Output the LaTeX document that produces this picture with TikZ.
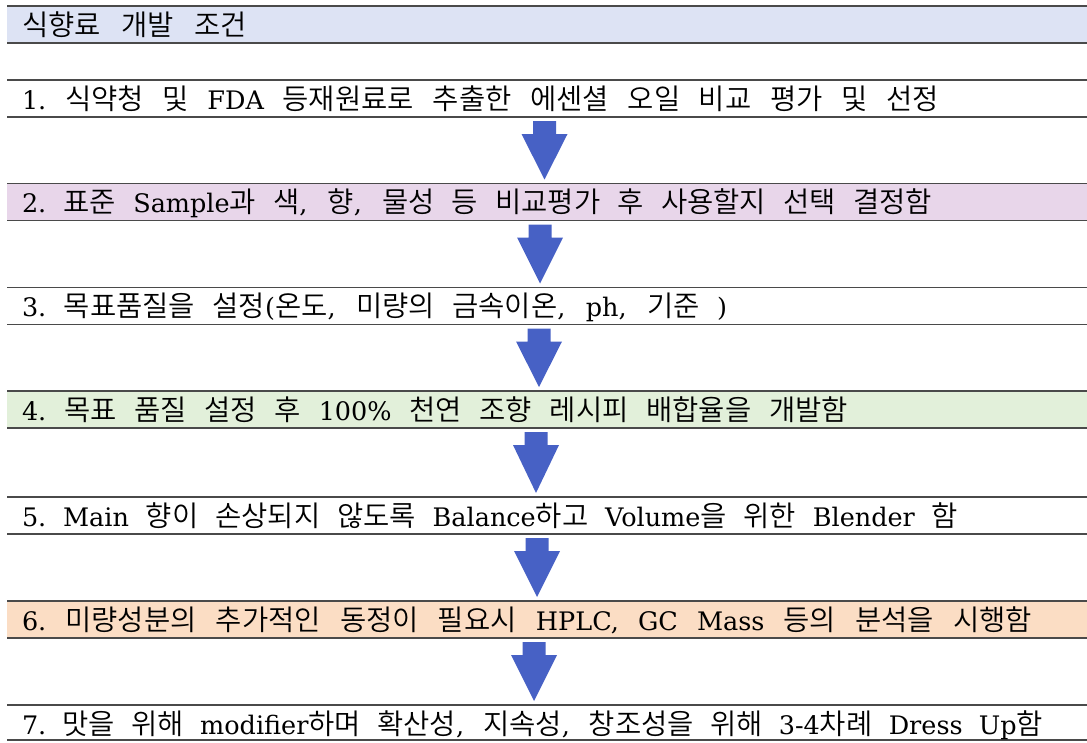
\documentclass[tikz,border=0pt]{standalone}
\usepackage{fontspec}
\setmainfont{DejaVu Serif}
\newfontfamily\krfont{Noto Sans CJK KR}[UprightFont=* DemiLight, Scale=1.12]
\newcommand\K[1]{{\krfont #1}}
\newcommand\myspaces{\spaceskip=6pt plus 1fil\relax\xspaceskip=6pt plus 1fil\relax}
\newcommand\fitline[2]{\makebox[#1][s]{\myspaces #2}}
\usetikzlibrary{calc}
\definecolor{titlefill}{HTML}{DDE3F4}
\definecolor{purplefill}{HTML}{E8D6EA}
\definecolor{greenfill}{HTML}{E2F0DA}
\definecolor{peachfill}{HTML}{FBDDC4}
\definecolor{arrowblue}{HTML}{4761C5}
\definecolor{rulegray}{HTML}{4A4A4A}
\tikzset{
  band/.style={draw=none, minimum width=1080pt, minimum height=37pt, inner sep=0pt, outer sep=0pt, anchor=north west},
  rule/.style={draw=rulegray, line width=1.4pt},
  txt/.style={anchor=base west, inner sep=0pt, outer sep=0pt, font=\fontsize{25.5}{30}\selectfont},
  barrowstyle/.style={fill=arrowblue, draw=none}
}
\newcommand\bandrules[1]{\draw[rule] (#1.north west) -- (#1.north east); \draw[rule] (#1.south west) -- (#1.south east);}
\newcommand\blockarrow[3]{%
  \fill[barrowstyle] let \p1=(#1.south), \p2=(#2.north) in
    (#3pt-11.5pt,\y1-4pt) -- (#3pt+11.5pt,\y1-4pt) -- (#3pt+11.5pt,\y1-17pt) -- (#3pt+23pt,\y1-17pt)
    -- (#3pt,\y2+4pt) -- (#3pt-23pt,\y1-17pt) -- (#3pt-11.5pt,\y1-17pt) -- cycle;}
\begin{document}
\begin{tikzpicture}[x=1pt,y=-1pt]
\useasboundingbox[fill=white] (0,0) rectangle (1087,742);
\node[band, fill=titlefill] (bt) at (7,6) {};
\node[band, fill=white] (b1) at (7,80) {};
\node[band, fill=purplefill] (b2) at (7,183.5) {};
\node[band, fill=white] (b3) at (7,287.5) {};
\node[band, fill=greenfill] (b4) at (7,391) {};
\node[band, fill=white] (b5) at (7,497) {};
\node[band, fill=peachfill] (b6) at (7,601) {};
\node[band, fill=white, minimum height=35pt] (b7) at (7,705) {};
\bandrules{bt}\bandrules{b1}\bandrules{b2}\bandrules{b3}\bandrules{b4}\bandrules{b5}\bandrules{b6}\bandrules{b7}

\node[txt] (tt) at ($(bt.north west)+(15,29)$) {\fitline{225pt}{\K{식향료 개발 조건}}};
\node[txt] (t1) at ($(b1.north west)+(15,29)$) {\fitline{917pt}{1. \K{식약청 및} FDA \K{등재원료로 추출한 에센셜 오일 비교 평가 및 선정}}};
\node[txt] (t2) at ($(b2.north west)+(15,29)$) {\fitline{910pt}{2. \K{표준} Sample\K{과 색}, \K{향}, \K{물성 등 비교평가 후 사용할지 선택 결정함}}};
\node[txt] (t3) at ($(b3.north west)+(15,29)$) {\fitline{705pt}{3. \K{목표품질을 설정}(\K{온도}, \K{미량의 금속이온}, ph, \K{기준} )}};
\node[txt] (t4) at ($(b4.north west)+(15,29)$) {\fitline{826pt}{4. \K{목표 품질 설정 후} 100\% \K{천연 조향 레시피 배합율을 개발함}}};
\node[txt] (t5) at ($(b5.north west)+(15,29)$) {\fitline{936pt}{5. Main \K{향이 손상되지 않도록} Balance\K{하고} Volume\K{을 위한} Blender \K{함}}};
\node[txt] (t6) at ($(b6.north west)+(15,29)$) {\fitline{1010pt}{6. \K{미량성분의 추가적인 동정이 필요시} HPLC, GC Mass \K{등의 분석을 시행함}}};
\node[txt] (t7) at ($(b7.north west)+(15,29)$) {\fitline{1021pt}{7. \K{맛을 위해} modifier\K{하며 확산성}, \K{지속성}, \K{창조성을 위해} 3-4\K{차례} Dress Up\K{함}}};

\blockarrow{b1}{b2}{544.5}
\blockarrow{b2}{b3}{540}
\blockarrow{b3}{b4}{539}
\blockarrow{b4}{b5}{536}
\blockarrow{b5}{b6}{537}
\blockarrow{b6}{b7}{534}
\end{tikzpicture}
\end{document}
